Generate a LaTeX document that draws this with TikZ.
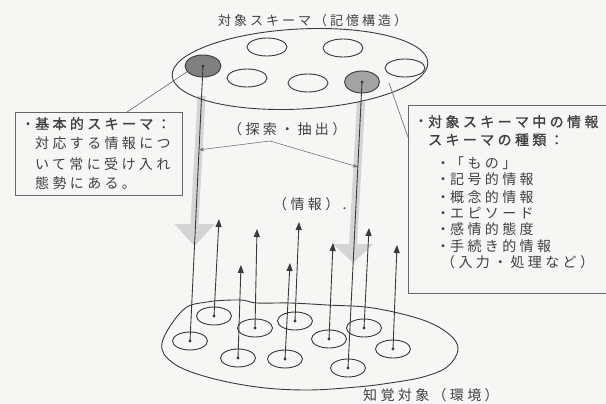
\documentclass[tikz,border=0pt]{standalone}
\usepackage{fontspec}
\usetikzlibrary{arrows.meta,shapes.geometric,calc}
\newfontfamily\cjk[LetterSpace=24,AutoFakeBold=1.2]{Noto Sans CJK JP}
\newfontfamily\cjkt[LetterSpace=23]{Noto Sans CJK JP}
\definecolor{ink}{HTML}{3A3A3A}
\definecolor{txt}{HTML}{404040}
\definecolor{bgc}{HTML}{F6F6F4}
\pgfdeclarelayer{back}
\pgfsetlayers{back,main}
\begin{document}
\begin{tikzpicture}[x=1pt,y=-1pt,
  sub/.style={ellipse, draw=ink, line width=0.9pt, minimum width=40pt, minimum height=18pt, inner sep=0pt},
  dark/.style={ellipse, draw=ink, line width=0.9pt, minimum width=36pt, minimum height=22pt, inner sep=0pt},
  small/.style={ellipse, draw=ink, line width=0.9pt, minimum width=35pt, minimum height=18pt, inner sep=0pt},
  lbl/.style={font=\cjk\fontsize{14}{16}\selectfont, text=txt, inner sep=0pt, anchor=base west},
  ttl/.style={font=\cjkt\fontsize{13}{15}\selectfont, text=txt, inner sep=0pt, anchor=base west},
  up/.style={draw=ink, line width=0.9pt, -{Triangle[width=6pt,length=8pt]}},
  gshaft/.style={fill=black!17},
  search/.style={draw=black!55, line width=0.6pt, -{Stealth[length=5pt,width=4pt]}},
  callout/.style={draw=black!60, line width=0.6pt},
  boxst/.style={draw=black!60, line width=0.8pt, anchor=north west, inner sep=0pt},
  thinl/.style={draw=ink, line width=0.9pt},
]
\useasboundingbox (0,0) rectangle (606,404);
\begin{pgfonlayer}{back}
\fill[bgc] (0,0) rectangle (606,404);
\end{pgfonlayer}
\clip (0,0) rectangle (606,404);

% title
\node[ttl] (title) at (218,26) {対象スキーマ（記憶構造）};

% top ellipse and schemas
\node[ellipse, draw=ink, line width=0.9pt, minimum width=256pt, minimum height=80pt, rotate=3] (top) at (300,69) {};
\node[sub] (t1) at (267,47) {};
\node[sub] (t2) at (343,48) {};
\node[sub] (t3) at (247,78) {};
\node[sub] (t4) at (308,83) {};
\node[sub] (t5) at (405,68) {};
\node[dark, fill=black!50] (dl) at (203,66) {};
\node[dark, fill=black!36, minimum width=35pt] (dr) at (362,82) {};

% bottom objects
\node[small] (b1) at (190,341) {};
\node[small] (b2) at (214,316) {};
\node[small] (b3) at (255,328) {};
\node[small] (b4) at (238,358) {};
\node[small] (b5) at (295,321) {};
\node[small] (b6) at (285,359) {};
\node[small] (b7) at (329,339) {};
\node[small] (b8) at (364,328) {};
\node[small] (b9) at (348,368) {};
\node[small] (b10) at (393,349) {};
\foreach \n in {b1,b2,b3,b4,b5,b6,b7,b8,b9,b10,dl,dr}
  \fill[ink] (\n.center) circle (1.7pt);

\draw[thinl] plot[smooth cycle, tension=0.6] coordinates {(162,343) (183,310) (207,302) (240,300) (257,303) (290,303) (327,305) (373,308) (423,320) (450,335) (458,350) (447,367) (423,377) (390,383) (357,387) (307,390) (257,387) (207,377) (173,363)};
\node[ttl, font=\cjk\fontsize{14}{16}\selectfont] (env) at (363,400) {知覚対象（環境）};

% gray downward arrows
\coordinate (gLs) at ($(dl.center)!0.11!(b1.center)$);
\coordinate (gLt) at ($(dl.center)!0.655!(b1.center)$);
\coordinate (gRs) at ($(dr.center)!0.07!(b9.center)$);
\coordinate (gRt) at ($(dr.center)!0.633!(b9.center)$);
\begin{pgfonlayer}{back}
\fill[gshaft] ($(gLs)+(-4,0)$) -- ($(gLs)+(4,0)$) -- ($(gLt)+(4,-22)$) -- ($(gLt)+(20,-22)$) -- (gLt) -- ($(gLt)+(-20,-22)$) -- ($(gLt)+(-4,-22)$) -- cycle;
\fill[gshaft] ($(gRs)+(-4,0)$) -- ($(gRs)+(4,0)$) -- ($(gRt)+(4,-19)$) -- ($(gRt)+(20,-19)$) -- (gRt) -- ($(gRt)+(-20,-19)$) -- ($(gRt)+(-4,-19)$) -- cycle;
\end{pgfonlayer}

% thin links between activated schemas and objects
\draw[thinl] (dl.center) -- (b1.center);
\draw[thinl] (dr.center) -- (b9.center);

% upward information arrows
\coordinate (u2) at (219,219);
\coordinate (u3) at (257,229);
\coordinate (u4) at (241,265);
\coordinate (u5) at (299,222);
\coordinate (u6) at (290,263);
\coordinate (u7) at (333,243);
\coordinate (u8) at (369,228);
\coordinate (u10) at (397,245);
\foreach \b/\u in {b2/u2,b3/u3,b4/u4,b5/u5,b6/u6,b7/u7,b8/u8,b10/u10}
  \draw[up] (\b.center) -- (\u);

% labels in the middle
\node[lbl] (srch) at (228,135) {（探索・抽出）};
\node[lbl] (info) at (273,209) {（情報）.};
\coordinate (sp) at (270,141);
\coordinate (sL) at ($(dl.center)!0.305!(b1.center)$);
\coordinate (sR) at ($(dr.center)!0.297!(b9.center)$);
\draw[search] (sp) -- (sL);
\draw[search] (sp) -- (sR);

% left box
\node[boxst, minimum width=167pt, minimum height=83pt] (lb) at (15,112) {};
\node[lbl] (l1) at (35,129) {\llap{・}\bfseries 基本的スキーマ：};
\node[lbl] (l2) at (35,149) {対応する情報につ};
\node[lbl] (l3) at (35,169) {いて常に受け入れ};
\node[lbl] (l4) at (35,189) {態勢にある。};
\draw[callout] ($(lb.north west)+(112,0)$) -- (dl.200);

% right box
\node[boxst, minimum width=222pt, minimum height=188pt] (rb) at (408,105) {};
\node[lbl] (r1) at (428,127) {\llap{・}\bfseries 対象スキーマ中の情報};
\node[lbl] (r2) at (428,145) {\bfseries スキーマの種類：};
\node[lbl] (r3) at (450,168) {\llap{・}「もの」};
\node[lbl] (r4) at (450,185) {\llap{・}記号的情報};
\node[lbl] (r5) at (450,202) {\llap{・}概念的情報};
\node[lbl] (r6) at (450,218) {\llap{・}エピソード};
\node[lbl] (r7) at (450,234) {\llap{・}感情的態度};
\node[lbl] (r8) at (450,251) {\llap{・}手続き的情報};
\node[lbl] (r9) at (441,267) {（入力・処理など）};
\coordinate (rc) at (389,83);
\draw[callout] ($(rb.north west)+(1,35)$) -- (rc);
\end{tikzpicture}
\end{document}
